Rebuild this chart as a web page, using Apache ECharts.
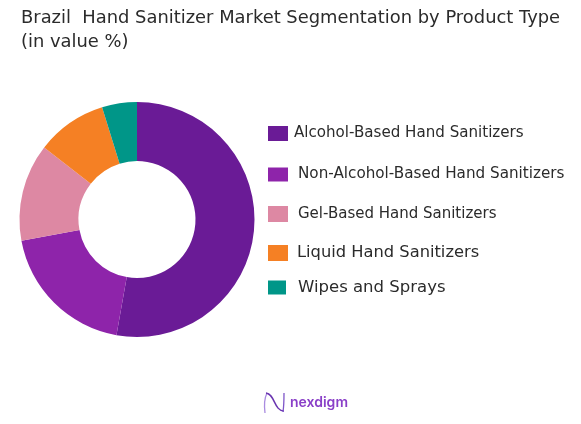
<!DOCTYPE html>
<html>
<head>
<meta charset="utf-8">
<style>
  html, body { margin: 0; padding: 0; background: #fff; }
  #chart { width: 581px; height: 424px; }
</style>
<script src="https://cdn.jsdelivr.net/npm/echarts@6/dist/echarts.min.js"></script>
</head>
<body>
<div id="chart"></div>
<script>
var titleText = 'Brazil  Hand Sanitizer Market Segmentation by Product Type\n(in value %)';
var categories = [
    'Alcohol-Based Hand Sanitizers',
    'Non-Alcohol-Based Hand Sanitizers',
    'Gel-Based Hand Sanitizers',
    'Liquid Hand Sanitizers',
    'Wipes and Sprays'
];
var shares = [52.8, 19.3, 13.4, 9.7, 4.8];
var colors = ['#6A1B96', '#8E24AA', '#DD88A3', '#F58024', '#009688'];

// each legend row sits on its own in the reference, spacing is uneven
var legendTops = [126, 167, 206, 245, 279];
var swatchWidths = [20, 20, 20, 20, 18];
var swatchHeights = [15, 14, 16, 16, 14];
var labelGaps = [1, 5, 5, 4, 7];
var labelSizes = [15.1, 15.2, 15, 16.3, 16.5];

var fontName = 'DejaVu Sans';
var chart = echarts.init(document.getElementById('chart'), null, { renderer: 'canvas' });

var legends = categories.map(function (name, i) {
    return {
        left: 268,
        top: legendTops[i],
        data: [name],
        icon: 'rect',
        itemWidth: swatchWidths[i],
        itemHeight: swatchHeights[i],
        selectedMode: false,
        padding: 0,
        textStyle: {
            fontFamily: fontName,
            fontSize: labelSizes[i],
            color: '#2b2b2b',
            padding: [0, 0, 0, labelGaps[i]]
        }
    };
});

chart.setOption({
    animation: false,
    color: colors,
    title: {
        text: titleText,
        left: 21,
        top: 6,
        padding: 0,
        textStyle: {
            fontFamily: fontName,
            fontSize: 17.9,
            fontWeight: 'normal',
            color: '#2b2b2b',
            lineHeight: 24.5
        }
    },
    legend: legends,
    series: [{
        type: 'pie',
        center: [137, 219.5],
        radius: [58.5, 117.5],
        startAngle: 90,
        clockwise: true,
        label: { show: false },
        labelLine: { show: false },
        emphasis: { disabled: true },
        data: categories.map(function (name, i) {
            return { name: name, value: shares[i] };
        })
    }],
    graphic: [
        {
            // logo mark: left stem, s-curve, right stem
            type: 'bezierCurve',
            shape: { x1: 265, y1: 413, cpx1: 264, cpy1: 405, cpx2: 265, cpy2: 397, x2: 267, y2: 393 },
            style: { fill: 'none', stroke: '#A98BE0', lineWidth: 1.3 }
        },
        {
            type: 'bezierCurve',
            shape: { x1: 266, y1: 393, cpx1: 275, cpy1: 394, cpx2: 274, cpy2: 411, x2: 284, y2: 411 },
            style: { fill: 'none', stroke: '#6A35B0', lineWidth: 1.5 }
        },
        {
            type: 'bezierCurve',
            shape: { x1: 283, y1: 412, cpx1: 284, cpy1: 405, cpx2: 284, cpy2: 399, x2: 284, y2: 393 },
            style: { fill: 'none', stroke: '#7E55C8', lineWidth: 1.3 }
        },
        {
            type: 'text',
            x: 290,
            y: 396,
            style: {
                text: 'nexdigm',
                fontFamily: 'Inter',
                fontSize: 14,
                fontWeight: 600,
                fill: '#8A3FC8'
            }
        }
    ]
});
</script>
</body>
</html>
